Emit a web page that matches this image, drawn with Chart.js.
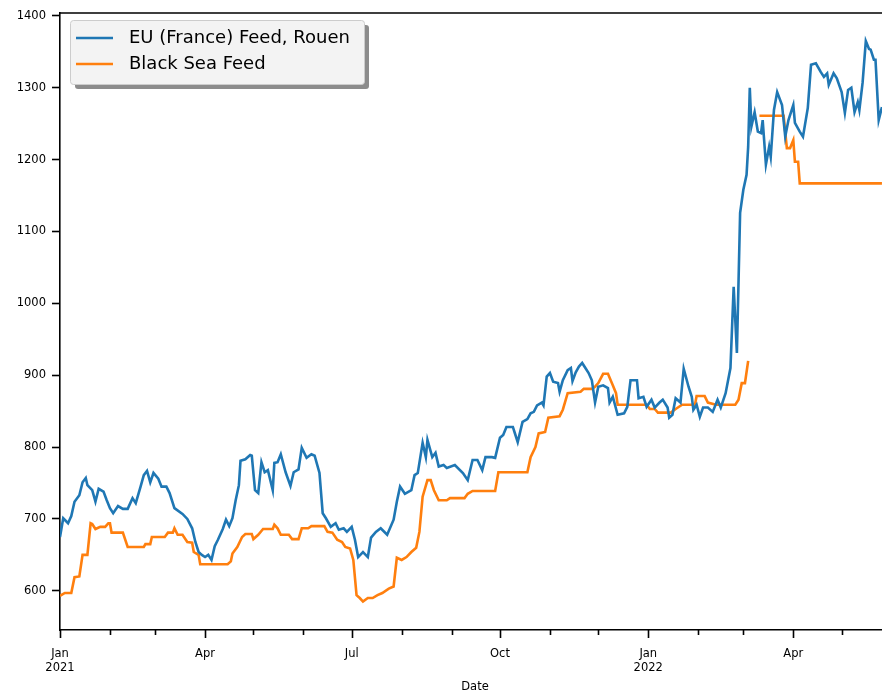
<!DOCTYPE html>
<html>
<head>
<meta charset="utf-8">
<script src="https://cdn.jsdelivr.net/npm/chart.js@4.4.1/dist/chart.umd.min.js"></script>
<style>
  html, body { margin: 0; padding: 0; background: #fff; overflow: hidden; }
  #wrap { width: 900px; height: 690px; }
</style>
</head>
<body>
<div id="wrap"><canvas id="priceChart" width="900" height="690"></canvas></div>
<script>

// EU (France) Feed, Rouen
const euDates = [
  '2021-01-01','2021-01-03','2021-01-06','2021-01-08','2021-01-10','2021-01-13','2021-01-15','2021-01-17','2021-01-18','2021-01-21',
  '2021-01-23','2021-01-25','2021-01-28','2021-01-30','2021-02-01','2021-02-03','2021-02-06','2021-02-09','2021-02-12','2021-02-15',
  '2021-02-17','2021-02-20','2021-02-22','2021-02-24','2021-02-26','2021-02-28','2021-03-03','2021-03-05','2021-03-08','2021-03-10',
  '2021-03-13','2021-03-18','2021-03-21','2021-03-24','2021-03-26','2021-03-28','2021-03-30','2021-04-01','2021-04-03','2021-04-05',
  '2021-04-07','2021-04-09','2021-04-12','2021-04-14','2021-04-16','2021-04-18','2021-04-20','2021-04-22','2021-04-23','2021-04-26',
  '2021-04-29','2021-04-30','2021-05-02','2021-05-04','2021-05-06','2021-05-08','2021-05-10','2021-05-13','2021-05-14','2021-05-16',
  '2021-05-18','2021-05-21','2021-05-24','2021-05-26','2021-05-29','2021-05-31','2021-06-03','2021-06-06','2021-06-08','2021-06-11',
  '2021-06-13','2021-06-15','2021-06-18','2021-06-21','2021-06-23','2021-06-26','2021-06-28','2021-07-01','2021-07-03','2021-07-05',
  '2021-07-08','2021-07-11','2021-07-13','2021-07-16','2021-07-19','2021-07-23','2021-07-27','2021-07-29','2021-07-31','2021-08-03',
  '2021-08-07','2021-08-09','2021-08-11','2021-08-14','2021-08-16','2021-08-17','2021-08-20','2021-08-22','2021-08-24','2021-08-27',
  '2021-08-29','2021-09-03','2021-09-08','2021-09-11','2021-09-14','2021-09-17','2021-09-20','2021-09-22','2021-09-26','2021-09-28',
  '2021-10-01','2021-10-03','2021-10-05','2021-10-09','2021-10-10','2021-10-12','2021-10-15','2021-10-18','2021-10-20','2021-10-22',
  '2021-10-24','2021-10-27','2021-10-28','2021-10-30','2021-11-01','2021-11-03','2021-11-06','2021-11-07','2021-11-09','2021-11-12',
  '2021-11-14','2021-11-15','2021-11-17','2021-11-19','2021-11-21','2021-11-23','2021-11-25','2021-11-27','2021-11-29','2021-12-01',
  '2021-12-04','2021-12-07','2021-12-08','2021-12-10','2021-12-13','2021-12-17','2021-12-19','2021-12-21','2021-12-25','2021-12-26',
  '2021-12-29','2021-12-31','2022-01-03','2022-01-05','2022-01-08','2022-01-10','2022-01-13','2022-01-14','2022-01-16','2022-01-18',
  '2022-01-21','2022-01-23','2022-01-26','2022-01-28','2022-01-29','2022-01-31','2022-02-02','2022-02-04','2022-02-07','2022-02-10',
  '2022-02-13','2022-02-15','2022-02-18','2022-02-21','2022-02-23','2022-02-25','2022-02-27','2022-03-01','2022-03-03','2022-03-04',
  '2022-03-05','2022-03-06','2022-03-08','2022-03-10','2022-03-12','2022-03-13','2022-03-15','2022-03-17','2022-03-18','2022-03-20',
  '2022-03-22','2022-03-25','2022-03-27','2022-03-29','2022-04-01','2022-04-02','2022-04-05','2022-04-07','2022-04-10','2022-04-12',
  '2022-04-15','2022-04-18','2022-04-20','2022-04-22','2022-04-23','2022-04-26','2022-04-28','2022-05-01','2022-05-03','2022-05-05',
  '2022-05-07','2022-05-09','2022-05-11','2022-05-12','2022-05-14','2022-05-16','2022-05-18','2022-05-19','2022-05-21','2022-05-22',
  '2022-05-24','2022-05-26'
];
const euPrice = [
  675, 701, 694, 704, 724, 733, 751, 757, 747, 740,
  724, 742, 738, 726, 715, 708, 718, 714, 714, 729,
  722, 745, 761, 767, 751, 764, 756, 745, 745, 736,
  715, 707, 700, 687, 668, 654, 650, 647, 650, 643,
  662, 671, 686, 699, 690, 701, 726, 747, 781, 783,
  789, 788, 740, 736, 779, 765, 768, 740, 778, 779,
  790, 765, 746, 765, 769, 799, 785, 790, 788, 764,
  708, 701, 689, 694, 685, 687, 682, 689, 671, 647,
  654, 647, 674, 682, 687, 678, 699, 724, 745, 735,
  740, 761, 764, 806, 786, 810, 786, 792, 773, 775,
  771, 775, 764, 754, 782, 782, 768, 786, 786, 785,
  813, 817, 828, 828, 821, 807, 835, 839, 847, 849,
  858, 862, 858, 898, 903, 891, 889, 877, 893, 907,
  910, 892, 904, 912, 917, 910, 903, 893, 862, 884,
  886, 882, 862, 870, 845, 847, 856, 893, 893, 868,
  870, 856, 866, 855, 862, 866, 855, 841, 845, 868,
  862, 909, 884, 870, 852, 859, 842, 855, 855, 849,
  866, 855, 875, 910, 1023, 931, 1126, 1158, 1179, 1218,
  1300, 1246, 1266, 1239, 1237, 1255, 1193, 1218, 1204, 1269,
  1294, 1276, 1232, 1255, 1276, 1251, 1239, 1232, 1272, 1332,
  1334, 1322, 1315, 1320, 1304, 1320, 1313, 1294, 1265, 1297,
  1300, 1266, 1280, 1269, 1307, 1365, 1354, 1353, 1339, 1339,
  1255, 1273
];

// Black Sea Feed (null = no quote)
const bsDates = [
  '2021-01-01','2021-01-04','2021-01-08','2021-01-10','2021-01-13','2021-01-15','2021-01-18','2021-01-20','2021-01-21','2021-01-23',
  '2021-01-26','2021-01-29','2021-01-31','2021-02-01','2021-02-02','2021-02-09','2021-02-12','2021-02-22','2021-02-23','2021-02-26',
  '2021-02-27','2021-03-07','2021-03-09','2021-03-12','2021-03-13','2021-03-15','2021-03-18','2021-03-21','2021-03-24','2021-03-25',
  '2021-03-28','2021-03-29','2021-04-15','2021-04-17','2021-04-18','2021-04-21','2021-04-24','2021-04-26','2021-04-30','2021-05-01',
  '2021-05-04','2021-05-07','2021-05-13','2021-05-14','2021-05-16','2021-05-18','2021-05-23','2021-05-25','2021-05-29','2021-05-31',
  '2021-06-04','2021-06-06','2021-06-14','2021-06-16','2021-06-19','2021-06-22','2021-06-25','2021-06-27','2021-06-30','2021-07-02',
  '2021-07-04','2021-07-06','2021-07-08','2021-07-11','2021-07-14','2021-07-17','2021-07-20','2021-07-24','2021-07-27','2021-07-29',
  '2021-08-01','2021-08-04','2021-08-07','2021-08-10','2021-08-12','2021-08-14','2021-08-17','2021-08-19','2021-08-21','2021-08-24',
  '2021-08-29','2021-08-31','2021-09-09','2021-09-11','2021-09-14','2021-09-28','2021-09-30','2021-10-18','2021-10-20','2021-10-23',
  '2021-10-25','2021-10-29','2021-10-31','2021-11-07','2021-11-09','2021-11-12','2021-11-20','2021-11-22','2021-11-27','2021-11-29',
  '2021-12-01','2021-12-04','2021-12-07','2021-12-10','2021-12-12','2021-12-13','2021-12-31','2022-01-02','2022-01-05','2022-01-07',
  '2022-01-15','2022-01-18','2022-01-22','2022-01-30','2022-01-31','2022-02-05','2022-02-07','2022-02-12','2022-02-24','2022-02-26',
  '2022-02-28','2022-03-02','2022-03-04','2022-03-07','2022-03-11','2022-03-26','2022-03-28','2022-03-30','2022-04-01','2022-04-02',
  '2022-04-04','2022-04-05','2022-05-26'
];
const bsPrice = [
  593, 597, 597, 619, 620, 650, 650, 694, 693, 686,
  689, 689, 694, 694, 681, 681, 661, 661, 665, 665,
  675, 675, 681, 681, 687, 678, 678, 668, 667, 654,
  650, 637, 637, 641, 652, 661, 675, 679, 679, 672,
  678, 686, 686, 692, 687, 678, 678, 672, 672, 687,
  687, 690, 690, 682, 681, 671, 668, 661, 659, 643,
  594, 590, 585, 590, 590, 594, 597, 603, 606, 646,
  643, 647, 654, 660, 682, 731, 754, 754, 740, 726,
  726, 729, 729, 735, 739, 739, 765, 765, 786, 800,
  819, 821, 841, 843, 852, 875, 877, 881, 881, 884,
  889, 902, 902, 886, 875, 859, 859, 853, 853, 848,
  848, 853, 859, 859, 871, 871, 862, 859, 859, 866,
  889, 889, 920, null, 1261, 1261, 1216, 1216, 1227, 1197,
  1197, 1167, 1167
];

const seriesLabels = ['EU (France) Feed, Rouen', 'Black Sea Feed'];
const seriesColors = ['#1f77b4', '#ff7f0e'];
const yTicks = [600, 700, 800, 900, 1000, 1100, 1200, 1300, 1400];
const monthNames = ['Jan','Feb','Mar','Apr','May','Jun','Jul','Aug','Sep','Oct','Nov','Dec'];
const startDate = '2021-01-01';
const endDate = '2022-05-31';

const DAY = 86400000;
function toDay(s) {
  const p = s.split('-').map(Number);
  return (Date.UTC(p[0], p[1] - 1, p[2]) - Date.UTC(2021, 0, 1)) / DAY;
}
function points(dates, values) {
  return dates.map(function(d, i){ return { x: toDay(d), y: values[i] }; });
}

// month starts between start and end (day numbers)
const monthTicks = [];
for (let y = 2021; y <= 2022; y++) {
  for (let m = 0; m < 12; m++) {
    const d = (Date.UTC(y, m, 1) - Date.UTC(2021, 0, 1)) / DAY;
    if (d >= toDay(startDate) && d <= toDay(endDate)) monthTicks.push({ value: d, month: m, year: y });
  }
}

const FONT = 'DejaVu Sans';

const spinesAndTicks = {
  id: 'spinesAndTicks',
  afterDraw(chart) {
    const ctx = chart.ctx;
    const a = chart.chartArea;
    const xs = chart.scales.x;
    ctx.save();
    ctx.strokeStyle = '#000';
    ctx.lineWidth = 1.6;
    ctx.beginPath();
    ctx.moveTo(a.left, a.top); ctx.lineTo(a.right, a.top);
    ctx.moveTo(a.right, a.top); ctx.lineTo(a.right, a.bottom);
    monthTicks.forEach(function(t){
      const px = Math.round(xs.getPixelForValue(t.value)) + 0.5;
      const len = (t.month % 3 === 0) ? 8 : 5;
      ctx.moveTo(px, a.bottom); ctx.lineTo(px, a.bottom + len);
    });
    ctx.stroke();
    ctx.restore();
  }
};

const boxLegend = {
  id: 'boxLegend',
  afterDraw(chart) {
    const ctx = chart.ctx;
    const x = 70, y = 20, w = 294, h = 64;
    ctx.save();
    // shadow
    ctx.fillStyle = 'rgba(0,0,0,0.45)';
    ctx.beginPath();
    ctx.roundRect(x + 5, y + 5, w, h, 3);
    ctx.fill();
    ctx.fillStyle = '#f3f3f3';
    ctx.strokeStyle = '#cccccc';
    ctx.lineWidth = 1;
    ctx.beginPath();
    ctx.roundRect(x + 0.5, y + 0.5, w, h, 3);
    ctx.fill();
    ctx.stroke();
    ctx.font = '18px "' + FONT + '"';
    ctx.textBaseline = 'middle';
    ctx.textAlign = 'left';
    seriesLabels.forEach(function(label, i){
      const ly = y + 18 + i * 26;
      ctx.strokeStyle = seriesColors[i];
      ctx.lineWidth = 2.6;
      ctx.beginPath();
      ctx.moveTo(x + 6, ly); ctx.lineTo(x + 43, ly);
      ctx.stroke();
      ctx.fillStyle = '#000';
      ctx.fillText(label, x + 59, ly);
    });
    ctx.restore();
  }
};

const ctx = document.getElementById('priceChart');
new Chart(ctx, {
  type: 'line',
  data: {
    datasets: [
      {
        label: seriesLabels[0],
        data: points(euDates, euPrice),
        borderColor: seriesColors[0],
        borderWidth: 2.6,
        pointRadius: 0,
        tension: 0
      },
      {
        label: seriesLabels[1],
        data: points(bsDates, bsPrice),
        borderColor: seriesColors[1],
        borderWidth: 2.6,
        pointRadius: 0,
        tension: 0,
        spanGaps: false
      }
    ]
  },
  options: {
    responsive: false,
    animation: false,
    devicePixelRatio: 1,
    layout: { padding: { top: 13, right: 10, left: 0, bottom: 0 } },
    plugins: {
      legend: { display: false },
      tooltip: { enabled: false }
    },
    scales: {
      x: {
        type: 'linear',
        min: toDay(startDate),
        max: toDay(endDate),
        afterBuildTicks: function(scale){
          scale.ticks = monthTicks.map(function(t){ return { value: t.value }; });
        },
        afterFit: function(scale){ scale.height = 60; },
        grid: { display: false, drawTicks: false },
        border: { display: true, color: '#000', width: 1.6 },
        ticks: {
          autoSkip: false,
          maxRotation: 0,
          padding: 17,
          color: '#000',
          font: { family: FONT, size: 11.5, lineHeight: 1.2 },
          callback: function(value){
            const t = monthTicks.find(function(m){ return m.value === value; });
            if (!t || t.month % 3 !== 0) return '';
            return t.month === 0 ? [monthNames[t.month], String(t.year)] : monthNames[t.month];
          }
        },
        title: {
          display: true,
          text: 'Date',
          color: '#000',
          font: { family: FONT, size: 11.5 },
          padding: { top: 0, bottom: -4 }
        }
      },
      y: {
        min: 545.5,
        max: 1404,
        afterBuildTicks: function(scale){
          scale.ticks = yTicks.map(function(v){ return { value: v }; });
        },
        afterFit: function(scale){ scale.width = 60; },
        grid: { drawOnChartArea: false, drawTicks: true, tickLength: 8, tickColor: '#000', tickWidth: 1.6 },
        border: { display: true, color: '#000', width: 1.6 },
        ticks: {
          padding: 6,
          color: '#000',
          font: { family: FONT, size: 11.5 },
          callback: function(value){ return String(value); }
        }
      }
    }
  },
  plugins: [spinesAndTicks, boxLegend]
});
</script>
</body>
</html>
